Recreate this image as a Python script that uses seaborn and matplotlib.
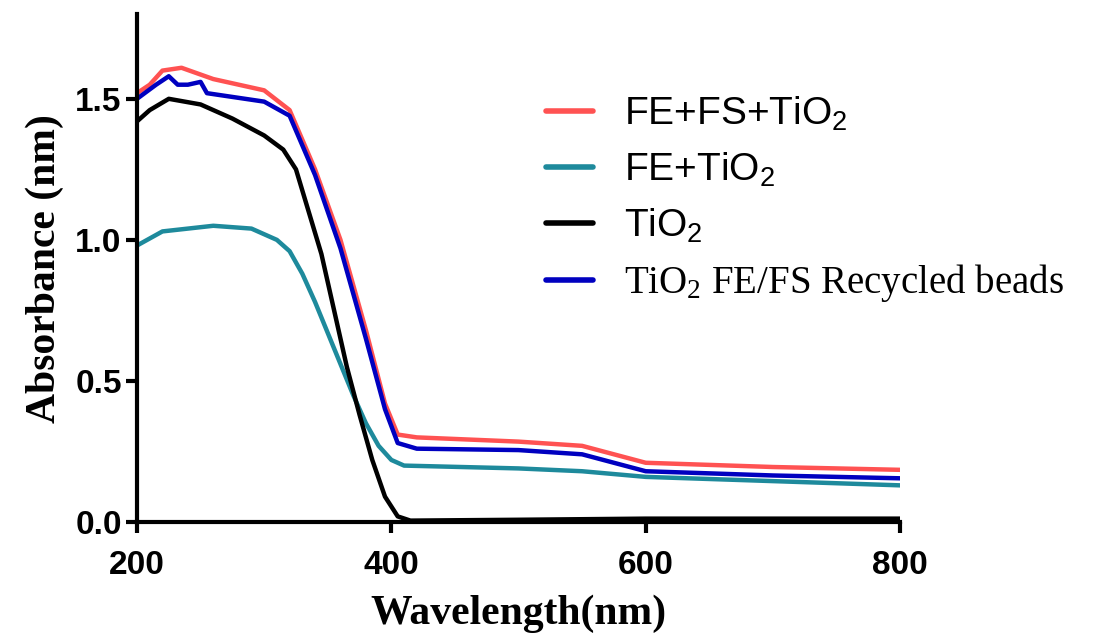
import numpy as np
import pandas as pd
import matplotlib
matplotlib.use("Agg")
import matplotlib.pyplot as plt
import seaborn as sns

# ---- data ----
wl_red = [200, 210, 220, 235, 260, 300, 320, 340, 360, 380, 395, 405, 420, 500, 550, 600, 700, 800]
ab_red = [1.52, 1.55, 1.60, 1.61, 1.57, 1.53, 1.46, 1.25, 1.00, 0.68, 0.42, 0.31, 0.30, 0.285, 0.27, 0.21, 0.195, 0.185]

wl_teal = [200, 220, 260, 290, 310, 320, 330, 340, 350, 360, 370, 380, 390, 400, 410, 500, 550, 600, 700, 800]
ab_teal = [0.98, 1.03, 1.05, 1.04, 1.00, 0.96, 0.88, 0.78, 0.67, 0.56, 0.45, 0.35, 0.27, 0.22, 0.20, 0.19, 0.18, 0.16, 0.145, 0.13]

wl_black = [200, 210, 225, 250, 275, 300, 315, 325, 335, 345, 355, 365, 375, 385, 395, 405, 415, 500, 600, 800]
ab_black = [1.42, 1.46, 1.50, 1.48, 1.43, 1.37, 1.32, 1.25, 1.10, 0.95, 0.75, 0.55, 0.38, 0.22, 0.09, 0.02, 0.005, 0.008, 0.012, 0.012]

wl_blue = [200, 215, 225, 232, 240, 250, 255, 300, 320, 340, 360, 380, 395, 405, 420, 500, 550, 600, 700, 800]
ab_blue = [1.50, 1.55, 1.58, 1.55, 1.55, 1.56, 1.52, 1.49, 1.44, 1.23, 0.97, 0.65, 0.40, 0.28, 0.26, 0.255, 0.24, 0.18, 0.165, 0.155]

labels = ["FE+FS+TiO$_2$", "FE+TiO$_2$", "TiO$_2$", "TiO$_2$ FE/FS Recycled beads"]
colors = ["#FF5252", "#1E8A9C", "#000000", "#0000C0"]
xticks = [200, 400, 600, 800]
yticks = [0.0, 0.5, 1.0, 1.5]
ytick_labels = ["0.0", "0.5", "1.0", "1.5"]

frames = []
for wl, ab, lab in zip([wl_red, wl_teal, wl_black, wl_blue],
                       [ab_red, ab_teal, ab_black, ab_blue], labels):
    frames.append(pd.DataFrame({"Wavelength": wl, "Absorbance": ab, "Sample": lab}))
df = pd.concat(frames, ignore_index=True)

sns.set_theme(style="ticks")
plt.rcParams["font.family"] = ["Liberation Sans", "DejaVu Sans"]
plt.rcParams["mathtext.default"] = "regular"
for k in ["text.color", "axes.labelcolor", "xtick.color", "ytick.color", "axes.edgecolor"]:
    plt.rcParams[k] = "black"

fig = plt.figure(figsize=(11.12, 6.44), dpi=100)
ax = fig.add_axes([0.1232, 0.1894, 0.6862, 0.7886])

sns.lineplot(data=df, x="Wavelength", y="Absorbance", hue="Sample",
             palette=dict(zip(labels, colors)), hue_order=labels,
             linewidth=3.2, ax=ax, sort=False, estimator=None)

ax.set_xlim(200, 800)
ax.set_ylim(0, 1.8)
ax.set_xticks(xticks)
ax.set_yticks(yticks)
ax.set_yticklabels(ytick_labels)
for s in ["top", "right"]:
    ax.spines[s].set_visible(False)
for s in ["left", "bottom"]:
    ax.spines[s].set_linewidth(3)
ax.tick_params(axis="both", width=3, length=8, direction="out", labelsize=24)
ax.tick_params(axis="x", pad=12)
ax.tick_params(axis="y", pad=3)
for t in ax.get_xticklabels() + ax.get_yticklabels():
    t.set_fontweight("bold")

ax.set_xlabel("Wavelength(nm)", fontfamily="Liberation Serif", fontweight="bold", fontsize=30, labelpad=10)
ax.set_ylabel("Absorbance (nm)", fontfamily="Liberation Serif", fontweight="bold", fontsize=30, labelpad=8)

leg = ax.legend(loc="upper left", bbox_to_anchor=(0.49, 0.91), frameon=False,
                fontsize=28, handlelength=1.2, handletextpad=0.8, labelspacing=0.45)
for line in leg.get_lines():
    line.set_linewidth(4)
leg.get_texts()[3].set_fontfamily("Liberation Serif")

fig.savefig("out.png", dpi=100)
